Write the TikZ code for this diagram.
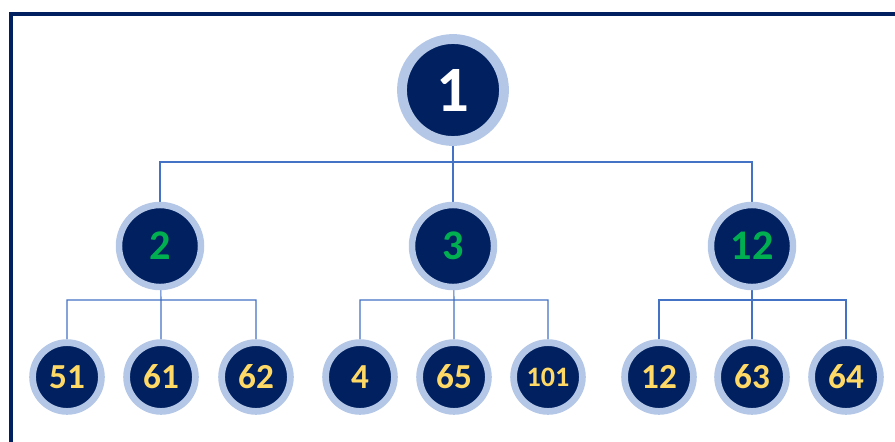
\documentclass[tikz,border=0pt]{standalone}
\usepackage{fontspec}
\setmainfont{Carlito}
\usepackage{tikz}
\usetikzlibrary{positioning,calc,backgrounds}

\definecolor{navy}{HTML}{002060}
\definecolor{ring}{HTML}{B4C7E7}
\definecolor{wire}{HTML}{4472C4}
\definecolor{lvltwo}{HTML}{00B050}
\definecolor{lvlthree}{HTML}{FFD966}

\tikzset{
  ball/.style={circle, fill=navy, draw=ring, inner sep=0pt, font=\bfseries},
  rootball/.style={ball, minimum size=2.55cm, line width=7pt, text=white, font=\bfseries\fontsize{46}{46}\selectfont},
  midball/.style={ball, minimum size=2.05cm, line width=4.6pt, text=lvltwo, font=\bfseries\fontsize{30}{30}\selectfont},
  leafball/.style={ball, minimum size=1.72cm, line width=4.8pt, text=lvlthree, font=\bfseries\fontsize{25}{25}\selectfont},
  link/.style={draw=wire, line width=0.8pt}
}

\begin{document}
\begin{tikzpicture}[x=0.025cm, y=-0.025cm]
		\useasboundingbox (0,0) rectangle (895,441);
		\draw[navy, line width=2.2pt] (11,14) rectangle (920,470);
		% top
		\node at (453,90) [rootball] (R) {1};
		% second row
		\node at (160,246) [midball] (A) {2};
		\node at (453,246) [midball] (B) {3};
		\node at (752,246) [midball] (C) {12};
		% leaves
		\node at (67,377) [leafball] (A1) {51};
		\node at (161,377) [leafball] (A2) {61};
		\node at (256,377) [leafball] (A3) {62};
		\node at (360,377) [leafball] (B1) {4};
		\node at (454,377) [leafball] (B2) {65};
		\node at (548,377) [leafball, font=\bfseries\fontsize{20}{20}\selectfont] (B3) {101};
		\node at (659,377) [leafball] (C1) {12};
		\node at (752,377) [leafball] (C2) {63};
		\node at (846,377) [leafball] (C3) {64};
		\coordinate (Rb) at (453,162);
		\coordinate (Ab) at (161,300);
		\coordinate (Bb) at (454,300);
		\coordinate (Cb) at (752,300);
		\begin{scope}[on background layer]
		\draw[link] (R) -- (Rb) -| (A) (Rb) -- (B) (Rb) -| (C);
		\draw[link] (A) -- (Ab) -| (A1) (Ab) -- (A2) (Ab) -| (A3);
		\draw[link] (B) -- (Bb) -| (B1) (Bb) -- (B2) (Bb) -| (B3);
		\draw[link] (C) -- (Cb) -| (C1) (Cb) -- (C2) (Cb) -| (C3);
		\end{scope}
\end{tikzpicture}
\end{document}
